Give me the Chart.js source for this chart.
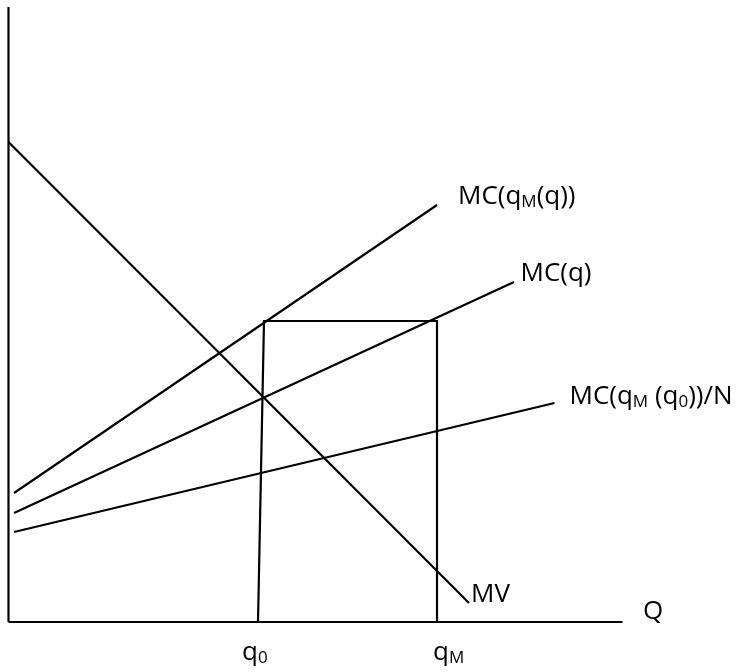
<!DOCTYPE html>
<html>
<head>
<meta charset="utf-8">
<script src="https://cdn.jsdelivr.net/npm/chart.js@4.4.0/dist/chart.umd.min.js"></script>
<style>
  html, body { margin: 0; padding: 0; background: #fff; }
  #wrap { width: 748px; height: 672px; }
</style>
</head>
<body>
<div id="wrap"><canvas id="chart"></canvas></div>
<script>
// points (x = quantity, y = price, origin at the axes corner)
const mvLine = [[0, 480], [460.5, 19]];
const mcMarketLine = [[5.5, 129], [428.5, 417]];
const mcLine = [[5.5, 109], [505.5, 340]];
const mcShareLine = [[5.5, 90], [546, 219]];
const boxLine = [[249.5, 0], [255.5, 301], [428.5, 301], [428.5, 0]];
const yAxisLine = [[0, 0], [0, 615]];
const xAxisLine = [[0, 0], [614, 0]];

// labels: [x, y, runs] ; runs = [text, isSubscript]
const labels = [
  [449.5, 418, [["MC(q", false], ["M", true], ["(q))", false]]],
  [512, 341, [["MC(q)", false]]],
  [561, 218, [["MC(q", false], ["M", true], [" (q", false], ["0", true], ["))/N", false]]],
  [462.5, 20, [["MV", false]]],
  [634.5, 3, [["Q", false]]],
  [233.5, -38, [["q", false], ["0", true]]],
  [424.5, -38, [["q", false], ["M", true]]]
];

const toPts = arr => arr.map(p => ({ x: p[0], y: p[1] }));

function lineSet(arr) {
  return {
    data: toPts(arr),
    borderColor: "#000",
    borderWidth: 2.2,
    pointRadius: 0,
    showLine: true,
    fill: false,
    tension: 0,
    clip: false
  };
}

const labelPlugin = {
  id: "labelPlugin",
  afterDatasetsDraw(chart) {
    const ctx = chart.ctx;
    const sx = chart.scales.x, sy = chart.scales.y;
    ctx.save();
    ctx.fillStyle = "#000";
    ctx.textBaseline = "alphabetic";
    labels.forEach(([x, y, runs]) => {
      let px = sx.getPixelForValue(x);
      const py = sy.getPixelForValue(y);
      runs.forEach(([t, sub]) => {
        ctx.font = sub ? "17px 'Open Sans'" : "26px 'Open Sans'";
        ctx.fillText(t, px, sub ? py + 3 : py);
        px += ctx.measureText(t).width;
      });
    });
    ctx.restore();
  }
};

new Chart(document.getElementById("chart").getContext("2d"), {
  type: "scatter",
  data: {
    datasets: [yAxisLine, xAxisLine, mvLine, mcMarketLine, mcLine, mcShareLine, boxLine].map(lineSet)
  },
  options: {
    responsive: true,
    maintainAspectRatio: false,
    animation: false,
    layout: { padding: { left: 8.5, right: 0, top: 0, bottom: 50 } },
    plugins: { legend: { display: false }, tooltip: { enabled: false } },
    scales: {
      x: { type: "linear", min: 0, max: 739.5, display: false },
      y: { type: "linear", min: 0, max: 622, display: false }
    }
  },
  plugins: [labelPlugin]
});
</script>
</body>
</html>
